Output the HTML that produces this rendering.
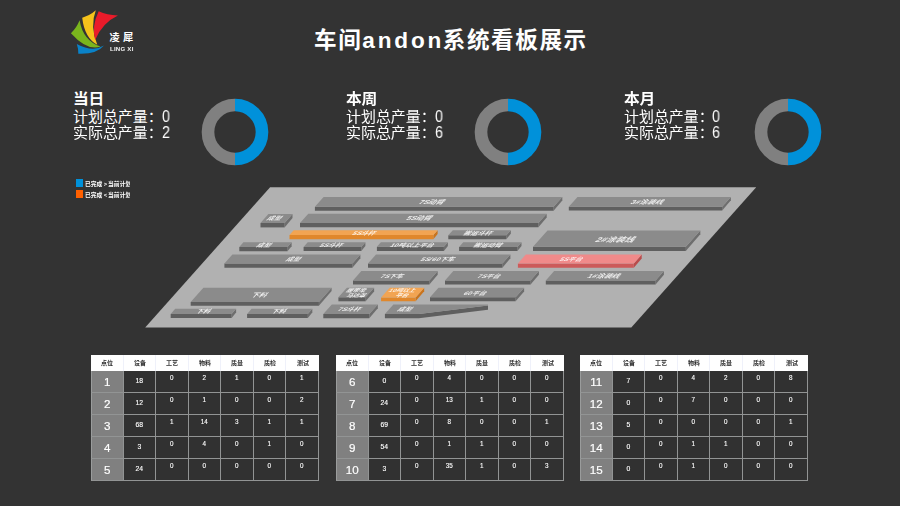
<!DOCTYPE html>
<html lang="zh-CN"><head><meta charset="utf-8"><title>车间andon系统看板展示</title>
<style>
html,body{margin:0;padding:0}
body{width:900px;height:506px;background:#333;overflow:hidden;position:relative;font-family:"Liberation Sans","Noto Sans CJK SC",sans-serif;color:#fff}
svg{display:block;overflow:visible}
svg text{font-family:"Liberation Sans","Noto Sans CJK SC",sans-serif}
svg.t,svg.logo,svg.donut,svg.map{position:absolute}
.lingxi{position:absolute;left:109.5px;top:44.9px;font-size:6.1px;font-weight:bold;line-height:7px;letter-spacing:0.22px;color:#f4f4f4;white-space:nowrap;will-change:transform}
.num{position:absolute;font-size:15.4px;line-height:19px;color:#fff;transform:scale(0.93,1.11);transform-origin:0 50%;will-change:transform}
.legend{position:absolute;left:0;top:0}
.legend .sq{position:absolute;left:76px;width:7.4px;height:7.9px;display:block}
.lgclip{position:absolute;left:85.1px;top:179.9px;width:45.3px;height:21px;overflow:hidden}
.lgclip svg{overflow:hidden}
table.tb{position:absolute;display:block;top:355px;width:228px;border-spacing:0;border-collapse:separate;will-change:transform}
table.tb thead,table.tb tbody{display:block}
table.tb tr{display:flex}
table.tb th,table.tb td{display:block;flex:0 0 32.52px;width:32.52px;box-sizing:border-box;padding:0;margin:0;text-align:center;font-weight:normal;overflow:hidden}
table.tb thead th{background:#fff;height:16px;border-right:1px solid #eff1fa}
table.tb thead th:last-child{border-right:none}
table.tb thead th svg{margin:4.0px auto 0;position:relative;left:0.5px}
table.tb tbody th,table.tb tbody td{height:22px;border-right:1px solid #929494;border-bottom:1px solid #929494;color:#fff}
table.tb tbody th{background:#808080;font-size:11.6px;line-height:22.4px;border-left:1px solid #9a9c9c;-webkit-text-stroke:0.18px #fff}
table.tb tbody td{background:#313131;font-size:6.3px;line-height:14.8px;-webkit-text-stroke:0.12px #fff}
table.tb tbody td.dev{font-size:6.8px;line-height:20px}
</style></head>
<body>
<svg class="logo" role="img" aria-label="凌犀 LING XI" style="left:60px;top:0" width="120" height="68" viewBox="60 0 120 68">
<title>凌犀 LING XI</title>
<path d="M76.8 44 Q92.6 52.6 104 45.6 Q96.6 54.6 78.3 53.8 Q78.5 49 76.8 44Z" fill="#0a82c8"/>
<path d="M79.6 20.2 Q82.9 40.6 100.6 46.6 Q87.4 51.3 70.9 33.2 Q76.5 28 79.6 20.2Z" fill="#7ab51d"/>
<path d="M95.8 10.3 Q89.7 26.5 97.3 44.8 Q84.6 37.9 82.2 17.7 Q90 15.5 95.8 10.3Z" fill="#f5c21b"/>
<path d="M98.7 11.3 Q107 15 117.9 15.5 Q102.4 22.8 95.1 39.9 Q91.5 26 98.7 11.3Z" fill="#ea1b2a"/>
<text x="109.6 123.1" y="41.4" font-size="10.2" font-weight="bold" fill="#fff">凌犀</text>
</svg>
<div class="lingxi">LING XI</div>
<svg class="t title" role="img" aria-label="车间andon系统看板展示" style="left:314.20px;top:24.60px" width="274.18" height="29.38" viewBox="0 -22.60 274.18 29.38" fill="#fff" ><title>车间andon系统看板展示</title><g transform="scale(1.0 1)"><text x="0 24.15" y="0" font-size="22.6" font-weight="bold">车间</text><text x="48.3" y="0" font-size="22.6" font-weight="bold" textLength="79" lengthAdjust="spacing">andon</text><text x="128.83 152.98 177.13 201.28 225.43 249.58" y="0" font-size="22.6" font-weight="bold">系统看板展示</text></g></svg>
<section class="panel" aria-label="当日">
<svg class="t " role="img" aria-label="当日" style="left:73.10px;top:89.00px" width="33.16" height="18.98" viewBox="0 -14.60 33.16 18.98" fill="#fff" ><title>当日</title><g transform="scale(1.08 1)"><text x="0 14.25" y="0" font-size="14.6" font-weight="bold">当日</text></g></svg>
<svg class="t " role="img" aria-label="计划总产量：" style="left:73.00px;top:107.20px" width="91.70" height="19.11" viewBox="0 -14.70 91.70 19.11" fill="#fff" ><title>计划总产量：</title><g transform="scale(1.017 1)"><text x="0 14.7 29.4 44.1 58.8 73.5" y="0" font-size="14.7">计划总产量：</text></g></svg>
<span class="num" style="left:161.7px;top:106.2px">0</span>
<svg class="t " role="img" aria-label="实际总产量：" style="left:73.00px;top:122.50px" width="91.70" height="19.11" viewBox="0 -14.70 91.70 19.11" fill="#fff" ><title>实际总产量：</title><g transform="scale(1.017 1)"><text x="0 14.7 29.4 44.1 58.8 73.5" y="0" font-size="14.7">实际总产量：</text></g></svg>
<span class="num" style="left:161.7px;top:122.0px">2</span>
<svg class="donut" role="img" aria-label="当日 完成率" style="left:200.15px;top:96.70px" width="70" height="70" viewBox="-35 -35 70 70"><path d="M0 -27.0 A27.0 27.0 0 0 0 0 27.0" fill="none" stroke="#808080" stroke-width="12.65"/><path d="M0 -27.0 A27.0 27.0 0 0 1 0 27.0" fill="none" stroke="#0091da" stroke-width="12.65"/></svg>
</section>
<section class="panel" aria-label="本周">
<svg class="t " role="img" aria-label="本周" style="left:346.40px;top:89.00px" width="33.16" height="18.98" viewBox="0 -14.60 33.16 18.98" fill="#fff" ><title>本周</title><g transform="scale(1.08 1)"><text x="0 14.25" y="0" font-size="14.6" font-weight="bold">本周</text></g></svg>
<svg class="t " role="img" aria-label="计划总产量：" style="left:346.30px;top:107.20px" width="91.70" height="19.11" viewBox="0 -14.70 91.70 19.11" fill="#fff" ><title>计划总产量：</title><g transform="scale(1.017 1)"><text x="0 14.7 29.4 44.1 58.8 73.5" y="0" font-size="14.7">计划总产量：</text></g></svg>
<span class="num" style="left:435.0px;top:106.2px">0</span>
<svg class="t " role="img" aria-label="实际总产量：" style="left:346.30px;top:122.50px" width="91.70" height="19.11" viewBox="0 -14.70 91.70 19.11" fill="#fff" ><title>实际总产量：</title><g transform="scale(1.017 1)"><text x="0 14.7 29.4 44.1 58.8 73.5" y="0" font-size="14.7">实际总产量：</text></g></svg>
<span class="num" style="left:435.0px;top:122.0px">6</span>
<svg class="donut" role="img" aria-label="本周 完成率" style="left:473.40px;top:96.70px" width="70" height="70" viewBox="-35 -35 70 70"><path d="M0 -27.0 A27.0 27.0 0 0 0 0 27.0" fill="none" stroke="#808080" stroke-width="12.65"/><path d="M0 -27.0 A27.0 27.0 0 0 1 0 27.0" fill="none" stroke="#0091da" stroke-width="12.65"/></svg>
</section>
<section class="panel" aria-label="本月">
<svg class="t " role="img" aria-label="本月" style="left:623.60px;top:89.00px" width="33.16" height="18.98" viewBox="0 -14.60 33.16 18.98" fill="#fff" ><title>本月</title><g transform="scale(1.08 1)"><text x="0 14.25" y="0" font-size="14.6" font-weight="bold">本月</text></g></svg>
<svg class="t " role="img" aria-label="计划总产量：" style="left:623.50px;top:107.20px" width="91.70" height="19.11" viewBox="0 -14.70 91.70 19.11" fill="#fff" ><title>计划总产量：</title><g transform="scale(1.017 1)"><text x="0 14.7 29.4 44.1 58.8 73.5" y="0" font-size="14.7">计划总产量：</text></g></svg>
<span class="num" style="left:712.2px;top:106.2px">0</span>
<svg class="t " role="img" aria-label="实际总产量：" style="left:623.50px;top:122.50px" width="91.70" height="19.11" viewBox="0 -14.70 91.70 19.11" fill="#fff" ><title>实际总产量：</title><g transform="scale(1.017 1)"><text x="0 14.7 29.4 44.1 58.8 73.5" y="0" font-size="14.7">实际总产量：</text></g></svg>
<span class="num" style="left:712.2px;top:122.0px">6</span>
<svg class="donut" role="img" aria-label="本月 完成率" style="left:753.40px;top:96.70px" width="70" height="70" viewBox="-35 -35 70 70"><path d="M0 -27.0 A27.0 27.0 0 0 0 0 27.0" fill="none" stroke="#808080" stroke-width="12.65"/><path d="M0 -27.0 A27.0 27.0 0 0 1 0 27.0" fill="none" stroke="#0091da" stroke-width="12.65"/></svg>
</section>
<div class="legend">
<i class="sq" style="top:178.9px;background:#0091da"></i>
<i class="sq" style="top:190.4px;background:#ff6000"></i>
<div class="lgclip">
<svg class="t " role="img" aria-label="已完成&gt;当前计划" style="left:0.00px;top:0.00px" width="48.27" height="7.54" viewBox="0 -5.80 48.27 7.54" fill="#fff" ><title>已完成&gt;当前计划</title><g transform="scale(1.0 1)"><text x="0 5.8 11.6 18.85 23.07 28.87 34.67 40.47" y="0" font-size="5.8" font-weight="bold">已完成&gt;当前计划</text></g></svg>
<svg class="t " role="img" aria-label="已完成&lt;当前计划" style="left:0.00px;top:11.40px" width="48.27" height="7.54" viewBox="0 -5.80 48.27 7.54" fill="#fff" ><title>已完成&lt;当前计划</title><g transform="scale(1.0 1)"><text x="0 5.8 11.6 18.85 23.07 28.87 34.67 40.47" y="0" font-size="5.8" font-weight="bold">已完成&lt;当前计划</text></g></svg>
</div></div>
<svg class="map" role="img" aria-label="车间布局图" style="left:140px;top:180px" width="640" height="155" viewBox="140 180 640 155">
<title>车间布局图</title>
<polygon points="270.1,187.2 756.2,187.2 631.3,327.5 145.2,327.5" fill="#b1b1b1"/>
<g><title>7S动臂</title><polygon points="553.6,206.8 562.3,197.0 562.3,200.5 553.6,210.7" fill="#6e6e6e"/><polygon points="314.9,206.8 553.6,206.8 553.6,210.7 314.9,210.7" fill="#5f5f5f"/><polygon points="323.6,197.0 562.3,197.0 553.6,206.8 314.9,206.8" fill="#8b8b8b"/></g>
<g><title>3#涂装线</title><polygon points="722.2,206.8 730.9,197.0 730.9,200.3 722.2,210.5" fill="#6e6e6e"/><polygon points="568.8,206.8 722.2,206.8 722.2,210.5 568.8,210.5" fill="#5f5f5f"/><polygon points="577.5,197.0 730.9,197.0 722.2,206.8 568.8,206.8" fill="#8b8b8b"/></g>
<g><title>成型</title><polygon points="284.6,223.0 292.5,214.1 292.5,218.1 284.6,227.4" fill="#6e6e6e"/><polygon points="260.5,223.0 284.6,223.0 284.6,227.4 260.5,227.4" fill="#5f5f5f"/><polygon points="268.4,214.1 292.5,214.1 284.6,223.0 260.5,223.0" fill="#8b8b8b"/></g>
<g><title>5S动臂</title><polygon points="538.4,223.0 546.7,213.7 546.7,217.5 538.4,227.2" fill="#6e6e6e"/><polygon points="300.0,223.0 538.4,223.0 538.4,227.2 300.0,227.2" fill="#5f5f5f"/><polygon points="308.3,213.7 546.7,213.7 538.4,223.0 300.0,223.0" fill="#8b8b8b"/></g>
<g><title>5S斗杆</title><polygon points="433.4,234.9 437.6,230.2 437.6,234.1 433.4,239.2" fill="#c9741d"/><polygon points="289.5,234.9 433.4,234.9 433.4,239.2 289.5,239.2" fill="#e0872b"/><polygon points="293.7,230.2 437.6,230.2 433.4,234.9 289.5,234.9" fill="#f2a452"/></g>
<g><title>搬运斗杆</title><polygon points="506.3,235.2 510.8,230.2 510.8,233.8 506.3,239.2" fill="#6e6e6e"/><polygon points="448.3,235.2 506.3,235.2 506.3,239.2 448.3,239.2" fill="#5f5f5f"/><polygon points="452.8,230.2 510.8,230.2 506.3,235.2 448.3,235.2" fill="#8b8b8b"/></g>
<g><title>2#涂装线</title><polygon points="685.8,246.7 700.3,230.4 700.3,234.3 685.8,251.0" fill="#6e6e6e"/><polygon points="533.0,246.7 685.8,246.7 685.8,251.0 533.0,251.0" fill="#5f5f5f"/><polygon points="547.5,230.4 700.3,230.4 685.8,246.7 533.0,246.7" fill="#8b8b8b"/></g>
<g><title>成型</title><polygon points="287.5,246.9 291.6,242.3 291.6,246.2 287.5,251.2" fill="#6e6e6e"/><polygon points="239.3,246.9 287.5,246.9 287.5,251.2 239.3,251.2" fill="#5f5f5f"/><polygon points="243.4,242.3 291.6,242.3 287.5,246.9 239.3,246.9" fill="#8b8b8b"/></g>
<g><title>5S斗杆</title><polygon points="361.3,246.9 365.4,242.3 365.4,246.0 361.3,251.0" fill="#6e6e6e"/><polygon points="303.6,246.9 361.3,246.9 361.3,251.0 303.6,251.0" fill="#5f5f5f"/><polygon points="307.7,242.3 365.4,242.3 361.3,246.9 303.6,246.9" fill="#8b8b8b"/></g>
<g><title>10吨以上平台</title><polygon points="443.9,246.8 447.9,242.3 447.9,246.1 443.9,251.0" fill="#6e6e6e"/><polygon points="376.9,246.8 443.9,246.8 443.9,251.0 376.9,251.0" fill="#5f5f5f"/><polygon points="380.9,242.3 447.9,242.3 443.9,246.8 376.9,246.8" fill="#8b8b8b"/></g>
<g><title>搬运动臂</title><polygon points="517.4,246.9 521.5,242.3 521.5,246.0 517.4,251.0" fill="#6e6e6e"/><polygon points="459.1,246.9 517.4,246.9 517.4,251.0 459.1,251.0" fill="#5f5f5f"/><polygon points="463.2,242.3 521.5,242.3 517.4,246.9 459.1,246.9" fill="#8b8b8b"/></g>
<g><title>成型</title><polygon points="352.4,263.6 360.4,254.6 360.4,258.3 352.4,267.7" fill="#6e6e6e"/><polygon points="224.4,263.6 352.4,263.6 352.4,267.7 224.4,267.7" fill="#5f5f5f"/><polygon points="232.4,254.6 360.4,254.6 352.4,263.6 224.4,263.6" fill="#8b8b8b"/></g>
<g><title>5S/60下车</title><polygon points="502.4,263.6 510.4,254.6 510.4,258.3 502.4,267.7" fill="#6e6e6e"/><polygon points="368.0,263.6 502.4,263.6 502.4,267.7 368.0,267.7" fill="#5f5f5f"/><polygon points="376.0,254.6 510.4,254.6 502.4,263.6 368.0,263.6" fill="#8b8b8b"/></g>
<g><title>5S平台</title><polygon points="633.8,263.5 641.7,254.6 641.7,258.5 633.8,267.8" fill="#b94c4c"/><polygon points="517.9,263.5 633.8,263.5 633.8,267.8 517.9,267.8" fill="#cc5a5a"/><polygon points="525.8,254.6 641.7,254.6 633.8,263.5 517.9,263.5" fill="#f08a8a"/></g>
<g><title>7S下车</title><polygon points="429.4,280.4 437.7,271.1 437.7,274.8 429.4,284.5" fill="#6e6e6e"/><polygon points="353.0,280.4 429.4,280.4 429.4,284.5 353.0,284.5" fill="#5f5f5f"/><polygon points="361.3,271.1 437.7,271.1 429.4,280.4 353.0,280.4" fill="#8b8b8b"/></g>
<g><title>7S平台</title><polygon points="530.6,280.4 538.9,271.1 538.9,274.8 530.6,284.5" fill="#6e6e6e"/><polygon points="445.0,280.4 530.6,280.4 530.6,284.5 445.0,284.5" fill="#5f5f5f"/><polygon points="453.3,271.1 538.9,271.1 530.6,280.4 445.0,280.4" fill="#8b8b8b"/></g>
<g><title>1#涂装线</title><polygon points="655.6,280.4 663.9,271.1 663.9,274.8 655.6,284.5" fill="#6e6e6e"/><polygon points="545.8,280.4 655.6,280.4 655.6,284.5 545.8,284.5" fill="#5f5f5f"/><polygon points="554.1,271.1 663.9,271.1 655.6,280.4 545.8,280.4" fill="#8b8b8b"/></g>
<g><title>下料</title><polygon points="318.9,302.0 331.6,287.7 331.6,291.1 318.9,305.8" fill="#6e6e6e"/><polygon points="190.7,302.0 318.9,302.0 318.9,305.8 190.7,305.8" fill="#5f5f5f"/><polygon points="203.4,287.7 331.6,287.7 318.9,302.0 190.7,302.0" fill="#8b8b8b"/></g>
<g><title>履带梁马达罩</title><polygon points="365.6,297.3 374.1,287.8 374.1,291.4 365.6,301.3" fill="#6e6e6e"/><polygon points="338.4,297.3 365.6,297.3 365.6,301.3 338.4,301.3" fill="#5f5f5f"/><polygon points="346.9,287.8 374.1,287.8 365.6,297.3 338.4,297.3" fill="#8b8b8b"/></g>
<g><title>10吨以上平台</title><polygon points="415.6,297.5 424.2,287.8 424.2,291.2 415.6,301.3" fill="#c9741d"/><polygon points="381.1,297.5 415.6,297.5 415.6,301.3 381.1,301.3" fill="#e0872b"/><polygon points="389.7,287.8 424.2,287.8 415.6,297.5 381.1,297.5" fill="#f2a452"/></g>
<g><title>60平台</title><polygon points="515.6,297.3 524.1,287.8 524.1,291.4 515.6,301.3" fill="#6e6e6e"/><polygon points="430.0,297.3 515.6,297.3 515.6,301.3 430.0,301.3" fill="#5f5f5f"/><polygon points="438.5,287.8 524.1,287.8 515.6,297.3 430.0,297.3" fill="#8b8b8b"/></g>
<g><title>下料</title><polygon points="231.6,313.9 236.1,308.8 236.1,312.4 231.6,317.9" fill="#6e6e6e"/><polygon points="170.7,313.9 231.6,313.9 231.6,317.9 170.7,317.9" fill="#5f5f5f"/><polygon points="175.2,308.8 236.1,308.8 231.6,313.9 170.7,313.9" fill="#8b8b8b"/></g>
<g><title>下料</title><polygon points="307.8,313.9 312.3,308.8 312.3,312.4 307.8,317.9" fill="#6e6e6e"/><polygon points="247.1,313.9 307.8,313.9 307.8,317.9 247.1,317.9" fill="#5f5f5f"/><polygon points="251.6,308.8 312.3,308.8 307.8,313.9 247.1,313.9" fill="#8b8b8b"/></g>
<g><title>7S斗杆</title><polygon points="369.3,314.0 377.8,304.4 377.8,308.2 369.3,318.2" fill="#6e6e6e"/><polygon points="323.3,314.0 369.3,314.0 369.3,318.2 323.3,318.2" fill="#5f5f5f"/><polygon points="331.8,304.4 377.8,304.4 369.3,314.0 323.3,314.0" fill="#8b8b8b"/></g>
<g><title>成型</title>
<polygon points="384.9,314.0 418.9,314.0 488.0,305.59999999999997 488.0,309.79999999999995 418.9,318.2 384.9,318.2" fill="#5f5f5f"/>
<polygon points="393.4,304.4 488.0,304.4 488.0,305.59999999999997 418.9,314.0 384.9,314.0" fill="#8b8b8b"/>
</g>
<g fill="#fff" fill-opacity="0.85" font-weight="bold"><g transform="matrix(1 0 -0.659 0.74 417.90 203.97)"><text x="0 4.54 9.35 17.05" y="0" font-size="7.7">7S动臂</text></g><g transform="matrix(1 0 -0.659 0.74 629.68 204.07)"><text x="0 4.54 9.09 16.79 24.49" y="0" font-size="7.7">3#涂装线</text></g><g transform="matrix(1 0 -0.659 0.74 266.25 220.37)"><text x="0 7" y="0" font-size="7">成型</text></g><g transform="matrix(1 0 -0.659 0.74 405.40 220.47)"><text x="0 4.54 9.35 17.05" y="0" font-size="7.7">5S动臂</text></g><g transform="matrix(1 0 -0.659 0.74 351.60 234.67)"><text x="0 4.13 8.5 15.5" y="0" font-size="7">5S斗杆</text></g><g transform="matrix(1 0 -0.659 0.74 462.75 234.77)"><text x="0 7 14 21" y="0" font-size="7">搬运斗杆</text></g><g transform="matrix(1 0 -0.659 0.74 594.38 241.50)"><text x="0 5.45 10.9 20.14 29.38" y="0" font-size="9.2">2#涂装线</text></g><g transform="matrix(1 0 -0.659 0.74 255.65 246.67)"><text x="0 7" y="0" font-size="7">成型</text></g><g transform="matrix(1 0 -0.659 0.74 318.70 246.67)"><text x="0 4.13 8.5 15.5" y="0" font-size="7">5S斗杆</text></g><g transform="matrix(1 0 -0.659 0.74 389.22 246.67)"><text x="0 4.13 8.26 15.26 22.26 29.26 36.26" y="0" font-size="7">10吨以上平台</text></g><g transform="matrix(1 0 -0.659 0.74 472.75 246.67)"><text x="0 7 14 21" y="0" font-size="7">搬运动臂</text></g><g transform="matrix(1 0 -0.659 0.74 285.25 261.27)"><text x="0 7" y="0" font-size="7">成型</text></g><g transform="matrix(1 0 -0.659 0.74 419.81 261.27)"><text x="0 4.13 8.5 11.21 15.34 19.47 26.47" y="0" font-size="7">5S/60下车</text></g><g transform="matrix(1 0 -0.659 0.74 558.70 261.17)"><text x="0 4.13 8.5 15.5" y="0" font-size="7">5S平台</text></g><g transform="matrix(1 0 -0.659 0.74 379.50 277.97)"><text x="0 4.13 8.5 15.5" y="0" font-size="7">7S下车</text></g><g transform="matrix(1 0 -0.659 0.74 476.60 277.97)"><text x="0 4.13 8.5 15.5" y="0" font-size="7">7S平台</text></g><g transform="matrix(1 0 -0.659 0.74 586.38 278.17)"><text x="0 4.54 9.09 16.79 24.49" y="0" font-size="7.7">1#涂装线</text></g><g transform="matrix(1 0 -0.659 0.74 250.37 296.97)"><text x="0 7.7" y="0" font-size="7.7">下料</text></g><g transform="matrix(1 0 -0.659 0.74 345.67 291.79)"><text x="0 6.3 12.6" y="0" font-size="6.3">履带梁</text></g><g transform="matrix(1 0 -0.659 0.74 345.67 296.55)"><text x="0 6.3 12.6" y="0" font-size="6.3">马达罩</text></g><g transform="matrix(1 0 -0.659 0.74 387.96 291.79)"><text x="0 3.72 7.43 13.73 20.03" y="0" font-size="6.3">10吨以上</text></g><g transform="matrix(1 0 -0.659 0.74 394.82 296.55)"><text x="0 6.3" y="0" font-size="6.3">平台</text></g><g transform="matrix(1 0 -0.659 0.74 462.72 294.87)"><text x="0 4.13 8.26 15.26" y="0" font-size="7">60平台</text></g><g transform="matrix(1 0 -0.659 0.74 195.25 313.27)"><text x="0 7" y="0" font-size="7">下料</text></g><g transform="matrix(1 0 -0.659 0.74 270.85 313.27)"><text x="0 7" y="0" font-size="7">下料</text></g><g transform="matrix(1 0 -0.659 0.74 337.00 311.07)"><text x="0 4.13 8.5 15.5" y="0" font-size="7">7S斗杆</text></g><g transform="matrix(1 0 -0.659 0.74 396.85 311.27)"><text x="0 7" y="0" font-size="7">成型</text></g></g>
</svg>
<table class="tb" style="left:90.9px">
<thead><tr>
<th><svg role="img" aria-label="点位" width="12.00" height="8" viewBox="0 -6.3 12.00 8" fill="#2e2e2e"><title>点位</title><text x="0 6" y="0" font-size="6" font-weight="bold">点位</text></svg></th>
<th><svg role="img" aria-label="设备" width="12.00" height="8" viewBox="0 -6.3 12.00 8" fill="#2e2e2e"><title>设备</title><text x="0 6" y="0" font-size="6" font-weight="bold">设备</text></svg></th>
<th><svg role="img" aria-label="工艺" width="12.00" height="8" viewBox="0 -6.3 12.00 8" fill="#2e2e2e"><title>工艺</title><text x="0 6" y="0" font-size="6" font-weight="bold">工艺</text></svg></th>
<th><svg role="img" aria-label="物料" width="12.00" height="8" viewBox="0 -6.3 12.00 8" fill="#2e2e2e"><title>物料</title><text x="0 6" y="0" font-size="6" font-weight="bold">物料</text></svg></th>
<th><svg role="img" aria-label="质量" width="12.00" height="8" viewBox="0 -6.3 12.00 8" fill="#2e2e2e"><title>质量</title><text x="0 6" y="0" font-size="6" font-weight="bold">质量</text></svg></th>
<th><svg role="img" aria-label="质检" width="12.00" height="8" viewBox="0 -6.3 12.00 8" fill="#2e2e2e"><title>质检</title><text x="0 6" y="0" font-size="6" font-weight="bold">质检</text></svg></th>
<th><svg role="img" aria-label="测试" width="12.00" height="8" viewBox="0 -6.3 12.00 8" fill="#2e2e2e"><title>测试</title><text x="0 6" y="0" font-size="6" font-weight="bold">测试</text></svg></th>
</tr></thead><tbody>
<tr><th>1</th><td class="dev">18</td><td>0</td><td>2</td><td>1</td><td>0</td><td>1</td></tr>
<tr><th>2</th><td class="dev">12</td><td>0</td><td>1</td><td>0</td><td>0</td><td>2</td></tr>
<tr><th>3</th><td class="dev">68</td><td>1</td><td>14</td><td>3</td><td>1</td><td>1</td></tr>
<tr><th>4</th><td class="dev">3</td><td>0</td><td>4</td><td>0</td><td>1</td><td>0</td></tr>
<tr><th>5</th><td class="dev">24</td><td>0</td><td>0</td><td>0</td><td>0</td><td>0</td></tr>
</tbody></table>
<table class="tb" style="left:335.6px">
<thead><tr>
<th><svg role="img" aria-label="点位" width="12.00" height="8" viewBox="0 -6.3 12.00 8" fill="#2e2e2e"><title>点位</title><text x="0 6" y="0" font-size="6" font-weight="bold">点位</text></svg></th>
<th><svg role="img" aria-label="设备" width="12.00" height="8" viewBox="0 -6.3 12.00 8" fill="#2e2e2e"><title>设备</title><text x="0 6" y="0" font-size="6" font-weight="bold">设备</text></svg></th>
<th><svg role="img" aria-label="工艺" width="12.00" height="8" viewBox="0 -6.3 12.00 8" fill="#2e2e2e"><title>工艺</title><text x="0 6" y="0" font-size="6" font-weight="bold">工艺</text></svg></th>
<th><svg role="img" aria-label="物料" width="12.00" height="8" viewBox="0 -6.3 12.00 8" fill="#2e2e2e"><title>物料</title><text x="0 6" y="0" font-size="6" font-weight="bold">物料</text></svg></th>
<th><svg role="img" aria-label="质量" width="12.00" height="8" viewBox="0 -6.3 12.00 8" fill="#2e2e2e"><title>质量</title><text x="0 6" y="0" font-size="6" font-weight="bold">质量</text></svg></th>
<th><svg role="img" aria-label="质检" width="12.00" height="8" viewBox="0 -6.3 12.00 8" fill="#2e2e2e"><title>质检</title><text x="0 6" y="0" font-size="6" font-weight="bold">质检</text></svg></th>
<th><svg role="img" aria-label="测试" width="12.00" height="8" viewBox="0 -6.3 12.00 8" fill="#2e2e2e"><title>测试</title><text x="0 6" y="0" font-size="6" font-weight="bold">测试</text></svg></th>
</tr></thead><tbody>
<tr><th>6</th><td class="dev">0</td><td>0</td><td>4</td><td>0</td><td>0</td><td>0</td></tr>
<tr><th>7</th><td class="dev">24</td><td>0</td><td>13</td><td>1</td><td>0</td><td>0</td></tr>
<tr><th>8</th><td class="dev">69</td><td>0</td><td>8</td><td>0</td><td>0</td><td>1</td></tr>
<tr><th>9</th><td class="dev">54</td><td>0</td><td>1</td><td>1</td><td>0</td><td>0</td></tr>
<tr><th>10</th><td class="dev">3</td><td>0</td><td>35</td><td>1</td><td>0</td><td>3</td></tr>
</tbody></table>
<table class="tb" style="left:580.2px">
<thead><tr>
<th><svg role="img" aria-label="点位" width="12.00" height="8" viewBox="0 -6.3 12.00 8" fill="#2e2e2e"><title>点位</title><text x="0 6" y="0" font-size="6" font-weight="bold">点位</text></svg></th>
<th><svg role="img" aria-label="设备" width="12.00" height="8" viewBox="0 -6.3 12.00 8" fill="#2e2e2e"><title>设备</title><text x="0 6" y="0" font-size="6" font-weight="bold">设备</text></svg></th>
<th><svg role="img" aria-label="工艺" width="12.00" height="8" viewBox="0 -6.3 12.00 8" fill="#2e2e2e"><title>工艺</title><text x="0 6" y="0" font-size="6" font-weight="bold">工艺</text></svg></th>
<th><svg role="img" aria-label="物料" width="12.00" height="8" viewBox="0 -6.3 12.00 8" fill="#2e2e2e"><title>物料</title><text x="0 6" y="0" font-size="6" font-weight="bold">物料</text></svg></th>
<th><svg role="img" aria-label="质量" width="12.00" height="8" viewBox="0 -6.3 12.00 8" fill="#2e2e2e"><title>质量</title><text x="0 6" y="0" font-size="6" font-weight="bold">质量</text></svg></th>
<th><svg role="img" aria-label="质检" width="12.00" height="8" viewBox="0 -6.3 12.00 8" fill="#2e2e2e"><title>质检</title><text x="0 6" y="0" font-size="6" font-weight="bold">质检</text></svg></th>
<th><svg role="img" aria-label="测试" width="12.00" height="8" viewBox="0 -6.3 12.00 8" fill="#2e2e2e"><title>测试</title><text x="0 6" y="0" font-size="6" font-weight="bold">测试</text></svg></th>
</tr></thead><tbody>
<tr><th>11</th><td class="dev">7</td><td>0</td><td>4</td><td>2</td><td>0</td><td>8</td></tr>
<tr><th>12</th><td class="dev">0</td><td>0</td><td>7</td><td>0</td><td>0</td><td>0</td></tr>
<tr><th>13</th><td class="dev">5</td><td>0</td><td>0</td><td>0</td><td>0</td><td>1</td></tr>
<tr><th>14</th><td class="dev">0</td><td>0</td><td>1</td><td>1</td><td>0</td><td>0</td></tr>
<tr><th>15</th><td class="dev">0</td><td>0</td><td>1</td><td>0</td><td>0</td><td>0</td></tr>
</tbody></table>
</body></html>
